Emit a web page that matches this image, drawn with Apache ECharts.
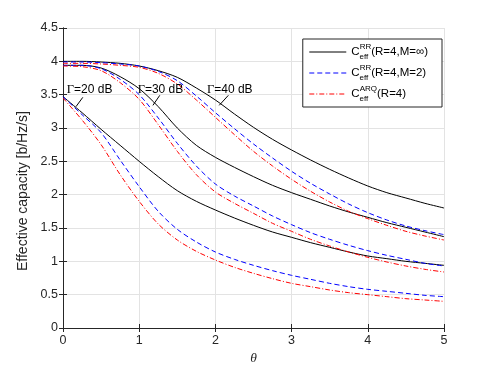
<!DOCTYPE html>
<html>
<head>
<meta charset="utf-8">
<script src="https://cdn.jsdelivr.net/npm/echarts@6/dist/echarts.min.js"></script>
<style>
html, body { margin: 0; padding: 0; background: #fff; }
#chart { width: 491px; height: 368px; }
</style>
</head>
<body>
<div id="chart"></div>
<script>
// theta grid the curves were read at
var theta = [0, 0.25, 0.5, 0.75, 1, 1.25, 1.5, 1.75, 2, 2.25, 2.5, 2.75, 3, 3.25, 3.5, 3.75, 4, 4.25, 4.5, 4.75, 5];

// Gamma = 20 dB
var rrInf20 = [3.47, 3.23, 2.98, 2.74, 2.50, 2.27, 2.06, 1.90, 1.77, 1.65, 1.54, 1.44, 1.36, 1.28, 1.21, 1.14, 1.08, 1.04, 1.00, 0.97, 0.94];
var rrM2_20 = [3.47, 3.20, 2.93, 2.52, 2.12, 1.75, 1.48, 1.29, 1.14, 1.03, 0.94, 0.86, 0.79, 0.73, 0.67, 0.62, 0.58, 0.55, 0.52, 0.49, 0.47];
var arq20   = [3.45, 3.12, 2.75, 2.30, 1.90, 1.56, 1.32, 1.15, 1.02, 0.91, 0.82, 0.74, 0.67, 0.62, 0.57, 0.53, 0.50, 0.47, 0.44, 0.42, 0.40];

// Gamma = 30 dB
var rrInf30 = [3.94, 3.94, 3.90, 3.77, 3.59, 3.32, 3.00, 2.74, 2.56, 2.41, 2.27, 2.14, 2.03, 1.93, 1.83, 1.74, 1.66, 1.58, 1.51, 1.44, 1.37];
var rrM2_30 = [3.94, 3.94, 3.89, 3.73, 3.50, 3.15, 2.77, 2.43, 2.16, 1.98, 1.83, 1.68, 1.55, 1.43, 1.33, 1.24, 1.16, 1.09, 1.03, 0.97, 0.93];
var arq30   = [3.93, 3.92, 3.86, 3.68, 3.43, 3.05, 2.65, 2.30, 2.04, 1.87, 1.72, 1.57, 1.45, 1.33, 1.23, 1.14, 1.06, 0.99, 0.93, 0.88, 0.84];

// Gamma = 40 dB
var rrInf40 = [4.00, 4.00, 3.99, 3.97, 3.93, 3.86, 3.76, 3.60, 3.42, 3.21, 3.01, 2.83, 2.67, 2.52, 2.38, 2.25, 2.13, 2.03, 1.95, 1.87, 1.80];
var rrM2_40 = [3.99, 3.99, 3.98, 3.96, 3.93, 3.85, 3.71, 3.48, 3.23, 2.99, 2.76, 2.55, 2.35, 2.17, 2.01, 1.86, 1.73, 1.62, 1.53, 1.46, 1.40];
var arq40   = [3.97, 3.97, 3.96, 3.94, 3.91, 3.82, 3.66, 3.42, 3.16, 2.90, 2.65, 2.43, 2.23, 2.05, 1.89, 1.75, 1.64, 1.54, 1.45, 1.38, 1.32];

var legendNames = ['RR, M=inf', 'RR, M=2', 'ARQ'];
var legendSup = ['RR', 'RR', 'ARQ'];
var legendTail = ['(R=4,M=\u221e)', '(R=4,M=2)', '(R=4)'];

var snrLabels = ['=20 dB', '=30 dB', '=40 dB'];
// label left/centre and leader ends, in data units
var snrLabelPos = [[0.05, 3.57], [0.98, 3.57], [1.89, 3.57]];
var snrLeaders = [[[0.26, 3.46], [0.17, 3.32]], [[1.27, 3.49], [1.18, 3.34]], [[2.17, 3.49], [2.05, 3.34]]];

var font = 'Liberation Sans, Arial, Helvetica, sans-serif';
var axisColor = '#262626';

function pairs(ys) {
	return ys.map(function (y, i) { return [theta[i], y]; });
}

var styles = [
	{ color: '#000000', type: 'solid' },
	{ color: '#0000ff', type: [5, 3] },
	{ color: '#ff0000', type: [5, 2, 1, 2] }
];
var groups = [[rrInf20, rrM2_20, arq20], [rrInf30, rrM2_30, arq30], [rrInf40, rrM2_40, arq40]];

var series = [];
groups.forEach(function (g) {
	g.forEach(function (ys, k) {
		series.push({
			name: legendNames[k],
			type: 'line',
			data: pairs(ys),
			smooth: 0.3,
			symbol: 'none',
			lineStyle: { color: styles[k].color, type: styles[k].type, width: 1 },
			itemStyle: { color: styles[k].color },
			animation: false
		});
	});
});

var chart = echarts.init(document.getElementById('chart'));

var option = {
	animation: false,
	textStyle: { fontFamily: font },
	grid: { left: 63, right: 47, top: 28, bottom: 40, outerBoundsMode: 'none' },
	xAxis: [
		{
			type: 'value', min: 0, max: 5, interval: 1, position: 'bottom',
			axisLine: { show: true, lineStyle: { color: axisColor, width: 1 } },
			axisTick: { show: true, inside: true, length: 4, lineStyle: { color: axisColor } },
			axisLabel: { color: axisColor, fontSize: 12.5, margin: 6, fontFamily: font },
			splitLine: { show: true, lineStyle: { color: '#e3e3e3', width: 1 } },
			name: '\u03b8', nameLocation: 'middle', nameGap: 22,
			nameTextStyle: { color: axisColor, fontSize: 13.5, fontStyle: 'italic', fontFamily: 'Liberation Serif, serif' }
		},
		{
			type: 'value', min: 0, max: 5, interval: 1, position: 'top',
			axisLine: { show: true, lineStyle: { color: axisColor, width: 1 } },
			axisTick: { show: true, inside: true, length: 4, lineStyle: { color: axisColor } },
			axisLabel: { show: false },
			splitLine: { show: false }
		}
	],
	yAxis: [
		{
			type: 'value', min: 0, max: 4.5, interval: 0.5, position: 'left',
			axisLine: { show: true, lineStyle: { color: axisColor, width: 1 } },
			axisTick: { show: true, inside: true, length: 4, lineStyle: { color: axisColor } },
			axisLabel: { color: axisColor, fontSize: 12.5, margin: 5, fontFamily: font },
			splitLine: { show: true, lineStyle: { color: '#e3e3e3', width: 1 } },
			name: 'Effective capacity [b/Hz/s]', nameLocation: 'middle', nameGap: 24,
			nameTextStyle: { color: axisColor, fontSize: 14, fontFamily: font, padding: [0, 26, 0, 0] }
		},
		{
			type: 'value', min: 0, max: 4.5, interval: 0.5, position: 'right',
			axisLine: { show: true, lineStyle: { color: axisColor, width: 1 } },
			axisTick: { show: true, inside: true, length: 4, lineStyle: { color: axisColor } },
			axisLabel: { show: false },
			splitLine: { show: false }
		}
	],
	legend: {
		data: legendNames,
		right: 49, top: 39,
		orient: 'vertical',
		backgroundColor: '#ffffff',
		borderColor: axisColor, borderWidth: 1,
		padding: [4, 14, 4, 6],
		itemGap: 3,
		itemWidth: 37, itemHeight: 10,
		itemStyle: { opacity: 0 },
		lineStyle: { width: 1 },
		formatter: function (name) {
			var i = legendNames.indexOf(name);
			return '{c|C}{sub|eff}{sup|' + legendSup[i] + '}{n|' + legendTail[i] + '}';
		},
		textStyle: {
			color: '#000',
			fontFamily: font,
			rich: {
				c: { fontSize: 11.5, lineHeight: 18, verticalAlign: 'middle', fontFamily: font, color: '#000' },
				sub: { fontSize: 8, lineHeight: 18, width: 0.1, verticalAlign: 'bottom', fontFamily: font, color: '#000' },
				sup: { fontSize: 8, lineHeight: 18, verticalAlign: 'top', fontFamily: font, color: '#000' },
				n: { fontSize: 11.5, lineHeight: 18, verticalAlign: 'middle', fontFamily: font, color: '#000' }
			}
		}
	},
	series: series
};

chart.setOption(option);

// Gamma annotations with leader lines, placed in data coordinates
var graphics = [];
snrLabels.forEach(function (t, i) {
	var p = chart.convertToPixel({ gridIndex: 0 }, snrLabelPos[i]);
	graphics.push({
		type: 'text', x: p[0], y: p[1], z: 100,
		style: {
			text: '{g|\u0393}{t|' + t + '}',
			verticalAlign: 'middle', align: 'left',
			rich: {
				g: { fontSize: 12.5, fontFamily: 'Liberation Serif, serif', fill: '#000' },
				t: { fontSize: 12, fontFamily: font, fill: '#000' }
			}
		}
	});
	var a = chart.convertToPixel({ gridIndex: 0 }, snrLeaders[i][0]);
	var b = chart.convertToPixel({ gridIndex: 0 }, snrLeaders[i][1]);
	graphics.push({
		type: 'line', z: 100,
		shape: { x1: a[0], y1: a[1], x2: b[0], y2: b[1] },
		style: { stroke: '#000', lineWidth: 1 }
	});
});
chart.setOption({ graphic: graphics });
</script>
</body>
</html>
